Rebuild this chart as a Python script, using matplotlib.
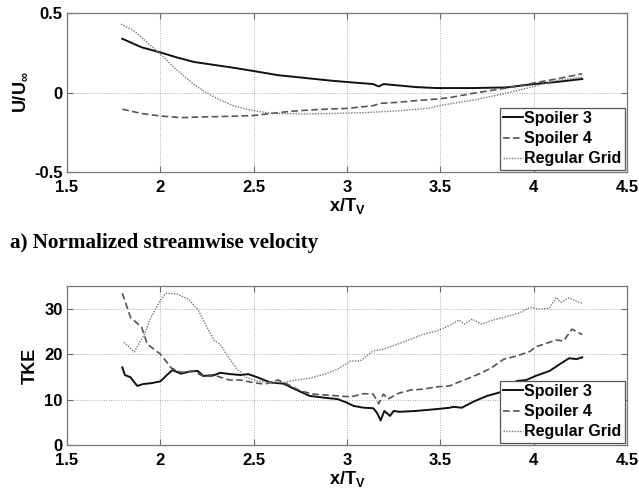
import matplotlib
matplotlib.use("Agg")
import matplotlib.pyplot as plt

# ---- Top panel: normalized streamwise velocity ----
u_s3_x = [1.796, 1.90, 2.0, 2.09, 2.18, 2.29, 2.39, 2.5, 2.63, 2.77, 2.91, 3.0, 3.14, 3.17, 3.195,
          3.27, 3.37, 3.48, 3.55, 3.68, 3.855, 4.0, 4.12, 4.26]
u_s3_y = [0.338, 0.284, 0.252, 0.22, 0.192, 0.173, 0.156, 0.135, 0.109, 0.092, 0.075, 0.066, 0.053, 0.038, 0.053,
          0.045, 0.034, 0.028, 0.028, 0.028, 0.032, 0.053, 0.066, 0.085]

u_s4_x = [1.796, 1.90, 2.0, 2.11, 2.22, 2.36, 2.5, 2.59, 2.70, 2.84, 3.0, 3.14, 3.18, 3.27, 3.37,
          3.48, 3.55, 3.68, 3.855, 4.0, 4.12, 4.26]
u_s4_y = [-0.105, -0.132, -0.148, -0.158, -0.154, -0.15, -0.145, -0.132, -0.118, -0.107, -0.10, -0.083, -0.068,
          -0.062, -0.051, -0.041, -0.032, -0.004, 0.028, 0.06, 0.085, 0.118]

u_rg_x = [1.79, 1.86, 1.915, 1.97, 2.02, 2.07, 2.13, 2.18, 2.25, 2.32, 2.39, 2.46, 2.52, 2.59, 2.75,
          2.93, 3.1, 3.28, 3.43, 3.51, 3.68, 3.855, 4.0, 4.12, 4.26]
u_rg_y = [0.43, 0.387, 0.33, 0.273, 0.22, 0.16, 0.10, 0.05, -0.004, -0.047, -0.083, -0.105, -0.118, -0.13,
          -0.135, -0.132, -0.126, -0.115, -0.10, -0.079, -0.047, -0.004, 0.038, 0.075, 0.096]

# ---- Bottom panel: TKE ----
k_s3_x = [1.796, 1.81, 1.84, 1.876, 1.906, 1.95, 2.0, 2.04, 2.065, 2.11, 2.16, 2.2, 2.23, 2.29, 2.32,
          2.375, 2.43, 2.47, 2.52, 2.59, 2.66, 2.72, 2.80, 2.88, 2.95, 3.0, 3.035, 3.09, 3.14,
          3.16, 3.18, 3.20, 3.23, 3.25, 3.28, 3.37, 3.48, 3.55, 3.57, 3.615, 3.68, 3.75, 3.82,
          3.91, 3.96, 4.01, 4.085, 4.14, 4.19, 4.23, 4.26]
k_s3_y = [17.1, 15.4, 14.9, 13.0, 13.4, 13.6, 14.0, 15.6, 16.5, 15.7, 16.2, 16.3, 15.2, 15.4, 15.9,
          15.6, 15.4, 15.6, 14.9, 13.75, 13.5, 12.3, 10.8, 10.4, 10.1, 9.3, 8.6, 8.2, 8.1,
          7.1, 5.4, 7.5, 6.4, 7.5, 7.3, 7.5, 7.9, 8.2, 8.4, 8.2, 9.6, 10.8, 11.6,
          14.1, 14.3, 15.2, 16.3, 17.8, 19.1, 18.9, 19.3]

k_s4_x = [1.796, 1.84, 1.90, 1.93, 2.0, 2.06, 2.11, 2.18, 2.23, 2.30, 2.37, 2.43, 2.5, 2.56, 2.63,
          2.68, 2.75, 2.82, 2.89, 2.95, 3.02, 3.09, 3.14, 3.17, 3.195, 3.22, 3.27, 3.34, 3.41,
          3.48, 3.55, 3.57, 3.64, 3.71, 3.77, 3.84, 3.91, 3.98, 4.01, 4.07, 4.12, 4.16, 4.205, 4.26]
k_s4_y = [33.4, 28.1, 25.9, 22.2, 20.0, 16.9, 16.0, 16.2, 15.1, 15.2, 14.3, 14.3, 13.7, 13.4, 14.3,
          13.4, 11.9, 11.2, 11.0, 10.8, 10.6, 11.3, 11.2, 9.1, 11.2, 10.1, 11.3, 12.1, 12.3,
          12.8, 13.0, 13.4, 14.5, 15.7, 16.9, 18.9, 19.6, 20.6, 21.6, 22.4, 23.1, 22.9, 25.5, 24.3]

k_rg_x = [1.805, 1.86, 1.915, 1.95, 2.0, 2.03, 2.09, 2.15, 2.2, 2.25, 2.29, 2.32, 2.36, 2.41, 2.46,
          2.52, 2.59, 2.66, 2.73, 2.80, 2.88, 2.95, 3.02, 3.07, 3.14, 3.195, 3.27, 3.34, 3.41,
          3.48, 3.55, 3.60, 3.63, 3.67, 3.72, 3.78, 3.85, 3.93, 3.98, 4.03, 4.085, 4.12, 4.147,
          4.19, 4.23, 4.26]
k_rg_y = [22.6, 20.5, 24.4, 28.1, 31.8, 33.4, 33.2, 32.1, 29.9, 25.9, 22.9, 22.2, 19.6, 16.7, 14.9,
          14.1, 13.75, 13.75, 14.3, 14.7, 15.6, 16.7, 18.5, 18.5, 20.7, 21.1, 22.2, 23.3, 24.4,
          25.1, 26.3, 27.5, 26.6, 27.7, 26.6, 27.5, 28.2, 29.2, 30.3, 29.9, 30.1, 32.5, 31.4,
          32.4, 31.6, 31.2]

labels = ["Spoiler 3", "Spoiler 4", "Regular Grid"]
x_ticks = [1.5, 2, 2.5, 3, 3.5, 4, 4.5]
x_ticklabels = ["1.5", "2", "2.5", "3", "3.5", "4", "4.5"]
u_ticks = [-0.5, 0, 0.5]
u_ticklabels = ["-0.5", "0", "0.5"]
k_ticks = [0, 10, 20, 30]
k_ticklabels = ["0", "10", "20", "30"]

plt.rcParams['font.family'] = ['Liberation Sans', 'DejaVu Sans']
plt.rcParams['mathtext.fontset'] = 'custom'
plt.rcParams['mathtext.rm'] = 'Liberation Sans:bold'
plt.rcParams['mathtext.bf'] = 'Liberation Sans:bold'
plt.rcParams['mathtext.it'] = 'Liberation Sans:bold'

fig = plt.figure(figsize=(6.39, 4.94), dpi=100)
ax1 = fig.add_axes([0.1049, 0.6518, 0.8764, 0.3219])
ax2 = fig.add_axes([0.1049, 0.0992, 0.8764, 0.3219])

styles = [dict(color='#111111', ls='-', lw=1.4),
          dict(color='#555555', ls=(0, (4, 2)), lw=1.2),
          dict(color='#777777', ls=(0, (1, 1)), lw=1.0)]

ax1.plot(u_s3_x, u_s3_y, label=labels[0], **styles[0])
ax1.plot(u_s4_x, u_s4_y, label=labels[1], **styles[1])
ax1.plot(u_rg_x, u_rg_y, label=labels[2], **styles[2])
ax2.plot(k_s3_x, k_s3_y, label=labels[0], **styles[0])
ax2.plot(k_s4_x, k_s4_y, label=labels[1], **styles[1])
ax2.plot(k_rg_x, k_rg_y, label=labels[2], **styles[2])

for ax in (ax1, ax2):
    ax.set_xlim(1.5, 4.5)
    ax.set_xticks(x_ticks)
    ax.set_xticklabels(x_ticklabels, fontsize=12, fontweight='bold')
    ax.grid(True, color='#aaaaaa', ls=(0, (1, 1.5)), lw=0.7)
    ax.tick_params(direction='in', top=True, right=True, length=4, width=0.8, color='#666666')
    ax.tick_params(axis='x', pad=6)
    ax.tick_params(axis='y', pad=3)
    for s in ax.spines.values():
        s.set_color('#777777')
        s.set_linewidth(0.9)
    ax.set_xlabel(r'x/T$_\mathrm{V}$', fontsize=13, fontweight='bold', labelpad=0.5)
    leg = ax.legend(loc='lower right', prop={'weight': 'bold', 'size': 11.5},
                    handlelength=1.2, handletextpad=0.1, labelspacing=0.33, borderpad=0.2,
                    borderaxespad=0.15, fancybox=False, framealpha=1, edgecolor='#555555')
    leg.get_frame().set_linewidth(0.9)

ax1.set_ylim(-0.5, 0.5)
ax1.set_yticks(u_ticks)
ax1.set_yticklabels(u_ticklabels, fontsize=12, fontweight='bold')
ax1.set_ylabel(r'U/U$_\infty$', fontsize=13, fontweight='bold', labelpad=4)

ax2.set_ylim(0, 35)
ax2.set_yticks(k_ticks)
ax2.set_yticklabels(k_ticklabels, fontsize=12, fontweight='bold')
ax2.set_ylabel('TKE', fontsize=13, fontweight='bold', labelpad=4)

fig.text(10 / 639, 1 - 243 / 494, 'a) Normalized streamwise velocity', fontsize=15.2,
         fontweight='bold', family='Liberation Serif', va='center', ha='left')

fig.savefig('out.png', dpi=100)
